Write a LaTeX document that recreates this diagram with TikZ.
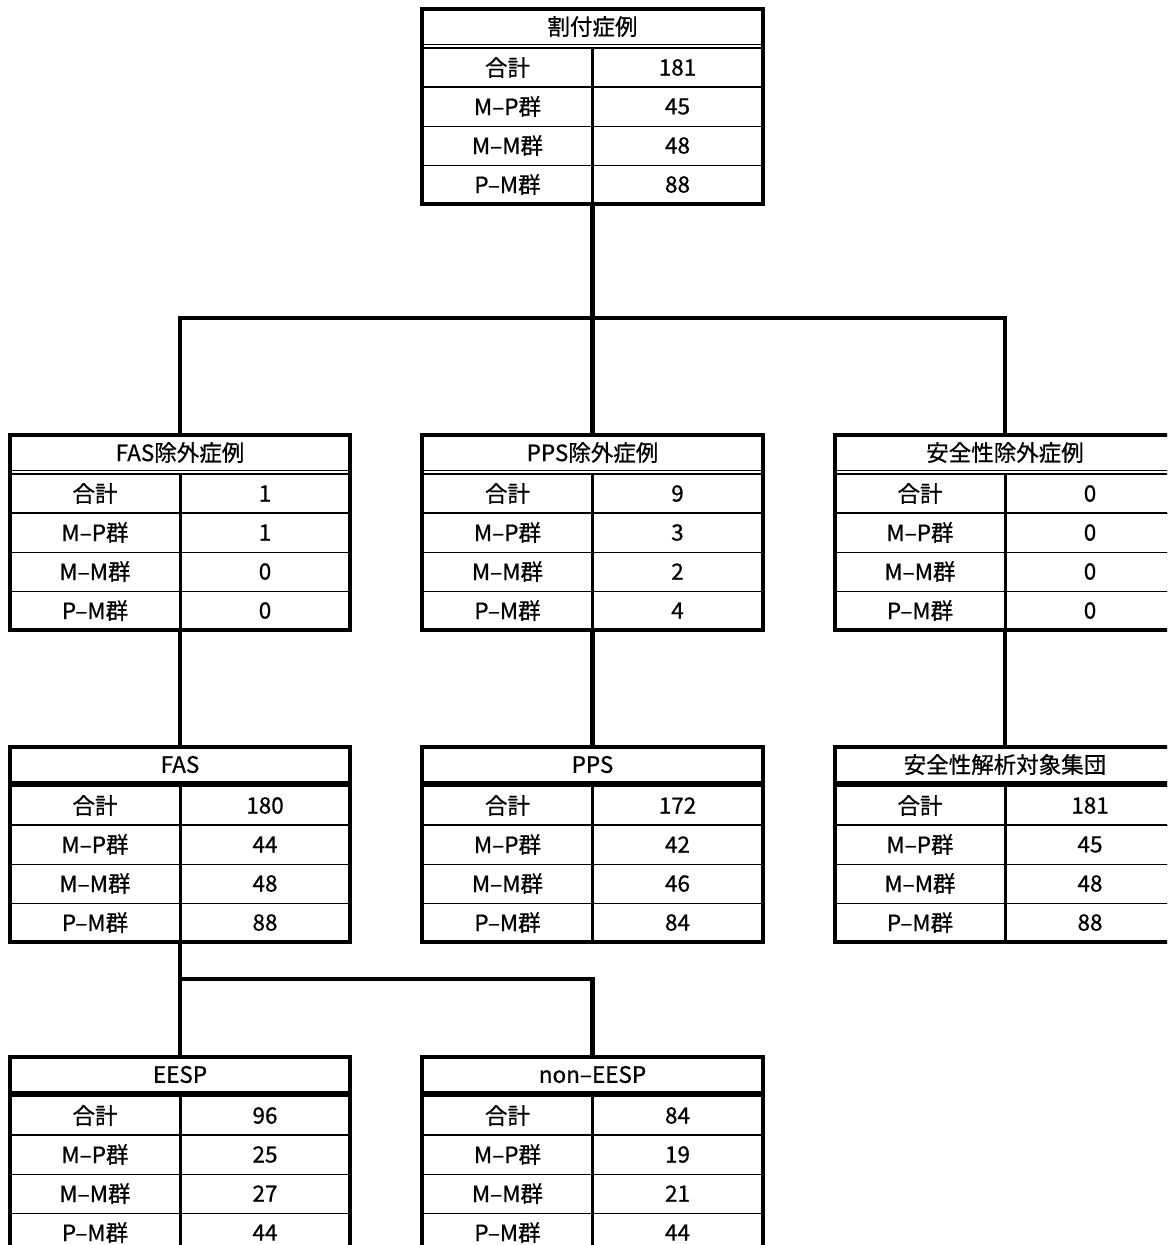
\documentclass[tikz,border=0pt]{standalone}
\usepackage{fontspec}
\setmainfont{Noto Sans CJK JP}
\newfontfamily\cellfont{Noto Sans CJK JP}[FakeBold=0.7]
\usetikzlibrary{positioning, fit}

% one group table: name, top centre, title, four counts, header separator style
\newcommand{\grptable}[8]{%
    \node[titlecell, anchor=north] (#1) at (#2) {#3};
    \node[labelcell, below right=0.1cm and 0cm of #1.south west] (#1-l1) {合計};
    \node[labelcell, below=0cm of #1-l1] (#1-l2) {M–P群};
    \node[labelcell, below=0cm of #1-l2] (#1-l3) {M–M群};
    \node[labelcell, below=0cm of #1-l3] (#1-l4) {P–M群};
    \node[valcell, right=0cm of #1-l1] (#1-v1) {#4};
    \node[valcell, right=0cm of #1-l2] (#1-v2) {#5};
    \node[valcell, right=0cm of #1-l3] (#1-v3) {#6};
    \node[valcell, right=0cm of #1-l4] (#1-v4) {#7};
    \draw[#8] ([yshift=-0.05cm]#1.south west) -- ([yshift=-0.05cm]#1.south east);
    \draw[rowsep] (#1-l1.south west) -- (#1-v1.south east);
    \draw[divider] (#1-l1.north east) -- (#1-l4.south east);
    \node[tblframe, fit=(#1)(#1-v4)] (#1-box) {};
}

\begin{document}
\begin{tikzpicture}[
                    % GLOBAL CFG
                    x=0.025cm, y=-0.025cm,
                    font=\cellfont\fontsize{16}{18}\selectfont,
                    % Styles
                    titlecell/.style={% For the table heading
                            rectangle,
                            draw,
                            line width=0.5pt,
                            outer sep=0pt,
                            minimum width=8.5cm,
                            minimum height=0.875cm,
                            inner sep=0pt,
                        },
                    labelcell/.style={% For the group names
                            rectangle,
                            draw,
                            line width=0.7pt,
                            outer sep=0pt,
                            minimum width=4.25cm,
                            minimum height=0.975cm,
                            inner sep=0pt,
                        },
                    valcell/.style={% For the counts
                            labelcell,
                        },
                    tblframe/.style={% Thick outline of a table
                            rectangle,
                            draw,
                            line width=0.1cm,
                            inner sep=0pt,
                            outer sep=0pt,
                        },
                    dblsep/.style={% Double rule under the heading
                            double,
                            double distance=0.05cm,
                            line width=0.035cm,
                        },
                    boldsep/.style={% Heavy rule under the heading
                            line width=0.14cm,
                        },
                    rowsep/.style={% Rule under the total
                            line width=0.065cm,
                        },
                    divider/.style={% Rule between the columns
                            line width=0.075cm,
                        },
                    link/.style={% Tree connectors
                            line width=0.12cm,
                        },
                ]

                \useasboundingbox (0,0) rectangle (1167,1245);
                \clip (0,0) rectangle (1167,1245);

                % Allocated cases
                \grptable{alloc}{592.5,9}{割付症例}{181}{45}{48}{88}{dblsep}

                % Excluded cases
                \grptable{fasx}{180,435}{FAS除外症例}{1}{1}{0}{0}{dblsep}
                \grptable{ppsx}{592.5,435}{PPS除外症例}{9}{3}{2}{4}{dblsep}
                \grptable{safex}{1005,435}{安全性除外症例}{0}{0}{0}{0}{dblsep}

                % Analysis sets
                \grptable{fas}{180,747}{FAS}{180}{44}{48}{88}{boldsep}
                \grptable{pps}{592.5,747}{PPS}{172}{42}{46}{84}{boldsep}
                \grptable{safe}{1005,747}{安全性解析対象集団}{181}{45}{48}{88}{boldsep}

                % Subgroups of FAS
                \grptable{eesp}{180,1057}{EESP}{96}{25}{27}{44}{boldsep}
                \grptable{neesp}{592.5,1057}{non–EESP}{84}{19}{21}{44}{boldsep}

                % Connectors
                \coordinate (fork1) at (592.5,318);
                \coordinate (fork2) at (180,979);
                \draw[link] (alloc-box.south) -- (fork1);
                \draw[link] (fork1) -| (fasx-box.north);
                \draw[link] (fork1) -- (ppsx-box.north);
                \draw[link] (fork1) -| (safex-box.north);

                \draw[link] (fasx-box.south) -- (fas-box.north);
                \draw[link] (ppsx-box.south) -- (pps-box.north);
                \draw[link] (safex-box.south) -- (safe-box.north);

                \draw[link] (fas-box.south) -- (fork2);
                \draw[link] (fork2) -- (eesp-box.north);
                \draw[link] (fork2) -| (neesp-box.north);

            \end{tikzpicture}
\end{document}
